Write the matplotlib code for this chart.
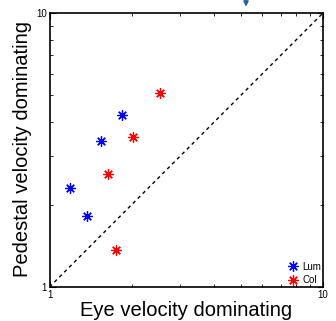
import matplotlib.pyplot as plt
from matplotlib.ticker import NullFormatter

# valores (escala log)
lum_eye = [1.84, 1.54, 1.19, 1.37]
lum_ped = [4.25, 3.42, 2.30, 1.82]
col_eye = [2.54, 2.02, 1.63, 1.75]
col_ped = [5.12, 3.54, 2.58, 1.37]
arrow_x = 5.23

plt.rcParams['font.family'] = ['Liberation Sans', 'DejaVu Sans']

fig = plt.figure(figsize=(3.36, 3.21), dpi=100)
ax = fig.add_axes([49.5/336, 1 - 287/321, 273.5/336, 274/321])
ax.set_xscale('log')
ax.set_yscale('log')
ax.set_xlim(1, 10)
ax.set_ylim(1, 10)

ax.plot([1, 10], [1, 10], 'k--', lw=1, dashes=(2.5, 2.5))

ast = (8, 2, 0)
ax.plot(lum_eye, lum_ped, ls='none', marker=ast, ms=7.5, mew=0.9, color='#0000ff', label='Lum')
ax.plot(col_eye, col_ped, ls='none', marker=ast, ms=7.5, mew=0.9, color='#ff0000', label='Col')

ax.set_xticks([1, 10])
ax.set_yticks([1, 10])
ax.set_xticklabels(['1', '10'])
ax.set_yticklabels(['1', '10'])
ax.xaxis.set_minor_formatter(NullFormatter())
ax.yaxis.set_minor_formatter(NullFormatter())
ax.tick_params(which='both', direction='in', top=True, right=True, labelsize=7, pad=2)
ax.tick_params(which='major', length=4)
ax.tick_params(which='minor', length=2.5)
for s in ax.spines.values():
    s.set_linewidth(1.2)

fig.text(186/336, 1 - 310/321, 'Eye velocity dominating', fontsize=14.5,
         ha='center', va='center')
fig.text(23/336, 1 - 149/321, 'Pedestal velocity dominating', fontsize=14.5,
         ha='center', va='center', rotation=90)

ax.legend(loc='lower right', frameon=False, fontsize=7, handlelength=1,
          handletextpad=0.4, borderaxespad=0.1, borderpad=0.1, labelspacing=0.35)

ax.annotate('', xy=(arrow_x, 10.3), xytext=(arrow_x, 11.3), xycoords='data',
            annotation_clip=False,
            arrowprops=dict(arrowstyle='-|>', color='#1f5fa8', lw=1.2, mutation_scale=7))

fig.savefig('out.png', dpi=100)
